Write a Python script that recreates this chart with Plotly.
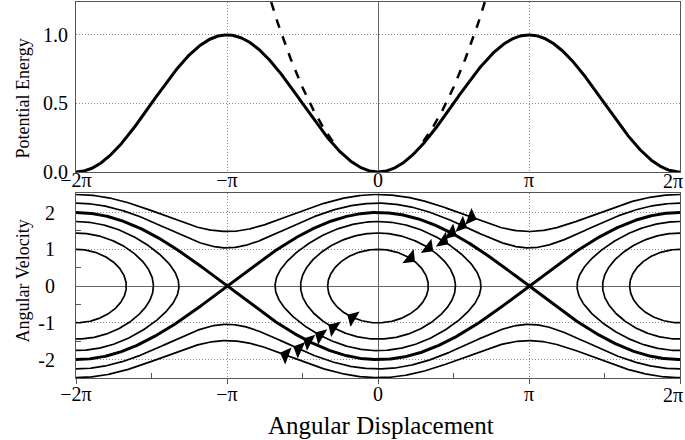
import numpy as np
import plotly.graph_objects as go

PI = np.pi

# tick positions / labels
x_tickvals = [-2 * PI, -PI, 0, PI, 2 * PI]
x_ticktext = ["\u22122\u03c0", "\u2212\u03c0", "0", "\u03c0", ""]
x_last_label = "2\u03c0"
x_minor = [-1.5 * PI, -0.5 * PI, 0.5 * PI, 1.5 * PI]
pe_tickvals = [0.0, 0.5, 1.0]
pe_ticktext = ["0.0", "0.5", "1.0"]
av_tickvals = [-2, -1, 0, 1, 2]
av_ticktext = ["-2", "-1", "0", "1", "2"]
av_minor = [-1.5, -0.5, 0.5, 1.5]
pe_range = [0, 1.24]
av_range = [-2.5, 2.52]

# orbit energies (E = v^2/2 + 1 - cos x)
closed_E = [0.5, 1.04, 1.54]
rotating_E = [2.54, 3.1]
# arrow positions (in units of pi) for each orbit, inner -> outer
arrow_E = [0.5, 1.04, 1.54, 2.0, 2.54, 3.1]
arrow_x_upper = [0.245, 0.366, 0.466, 0.521, 0.591, 0.654]
arrow_x_lower = [-0.203, -0.329, -0.417, -0.495, -0.561, -0.649]

FONT = "Liberation Serif, Times New Roman, serif"

fig = go.Figure()

# top panel: potential energy and small-angle parabola
x = np.linspace(-2 * PI, 2 * PI, 800)
fig.add_trace(go.Scatter(x=x, y=(1 - np.cos(x)) / 2, mode="lines",
                         line=dict(color="black", width=3), xaxis="x", yaxis="y"))
for side in (-1, 1):
    xd = side * np.linspace(0.3 * PI, 0.75 * PI, 200)
    fig.add_trace(go.Scatter(x=xd, y=xd ** 2 / 4, mode="lines",
                             line=dict(color="black", width=2.5, dash="dash"),
                             xaxis="x", yaxis="y"))

# bottom panel: phase portrait
phi = np.linspace(0, 2 * PI, 400)
for E in closed_E:
    k = np.sqrt(E / 2)
    xs = 2 * np.arcsin(k * np.sin(phi))
    vs = np.sqrt(2 * E) * np.cos(phi)
    for c in (-2 * PI, 0, 2 * PI):
        fig.add_trace(go.Scatter(x=xs + c, y=vs, mode="lines",
                                 line=dict(color="black", width=1.7),
                                 xaxis="x2", yaxis="y2"))

# separatrix
for s in (1, -1):
    fig.add_trace(go.Scatter(x=x, y=s * 2 * np.cos(x / 2), mode="lines",
                             line=dict(color="black", width=3),
                             xaxis="x2", yaxis="y2"))

for E in rotating_E:
    v = np.sqrt(2 * (E - 1 + np.cos(x)))
    for s in (1, -1):
        fig.add_trace(go.Scatter(x=x, y=s * v, mode="lines",
                                 line=dict(color="black", width=1.7),
                                 xaxis="x2", yaxis="y2"))

# arrows along the flow (dx/dt = v, dv/dt = -sin x)
sx = 604 / (4 * PI)
sy = 184.7 / (av_range[1] - av_range[0])
L = 11
for E, xu, xl in zip(arrow_E, arrow_x_upper, arrow_x_lower):
    for xp, sgn in ((xu * PI, 1), (xl * PI, -1)):
        vp = sgn * np.sqrt(max(2 * (E - 1 + np.cos(xp)), 0))
        dxp = vp * sx              # screen x velocity
        dyp = np.sin(xp) * sy      # screen y velocity (down positive)
        n = np.hypot(dxp, dyp)
        fig.add_annotation(x=xp, y=vp, xref="x2", yref="y2", text="",
                           showarrow=True, arrowhead=1, arrowsize=2,
                           arrowwidth=1.5, arrowcolor="black", standoff=0,
                           ax=-dxp / n * L, ay=-dyp / n * L)

axis_common = dict(showline=True, linecolor="#555", linewidth=1, mirror=True,
                   gridcolor="#888", griddash="1px,2px", gridwidth=1,
                   zeroline=True, zerolinecolor="#666", zerolinewidth=1,
                   automargin=False,
                   tickfont=dict(family=FONT, size=20, color="black"))

fig.update_layout(
    width=685, height=440,
    margin=dict(l=76, r=5, t=2, b=62),
    paper_bgcolor="white", plot_bgcolor="white",
    showlegend=False,
    xaxis=dict(domain=[0, 1], anchor="y", range=[-2 * PI, 2 * PI],
               tickmode="array", tickvals=x_tickvals, ticktext=x_ticktext,
               ticks="", ticklabelstandoff=-10, **axis_common),
    yaxis=dict(domain=[0.548, 1], anchor="x", range=pe_range,
               tickmode="array", tickvals=pe_tickvals, ticktext=pe_ticktext,
               ticks="", ticklabelstandoff=3, **axis_common),
    xaxis2=dict(domain=[0, 1], anchor="y2", range=[-2 * PI, 2 * PI],
                tickmode="array", tickvals=x_tickvals, ticktext=x_ticktext,
                ticks="outside", ticklen=5, tickcolor="#555",
                minor=dict(tickmode="array", tickvals=x_minor, ticks="inside",
                           ticklen=5, tickcolor="#555", showgrid=False),
                ticklabelstandoff=-7, **axis_common),
    yaxis2=dict(domain=[0, 0.491], anchor="x2", range=av_range,
                tickmode="array", tickvals=av_tickvals, ticktext=av_ticktext,
                ticks="", ticklabelstandoff=16,
                minor=dict(tickmode="array", tickvals=av_minor, ticks="inside",
                           ticklen=5, tickcolor="#555", showgrid=False),
                **axis_common),
)

# "2π" labels kept inside the page at the right edge
fig.add_annotation(text=x_last_label, x=x_tickvals[-1], y=pe_range[0], xref="x", yref="y",
                   xanchor="right", yanchor="middle", xshift=5, yshift=-9, showarrow=False,
                   font=dict(family=FONT, size=20, color="black"))
fig.add_annotation(text=x_last_label, x=x_tickvals[-1], y=av_range[0], xref="x2", yref="y2",
                   xanchor="right", yanchor="middle", xshift=5, yshift=-17, showarrow=False,
                   font=dict(family=FONT, size=20, color="black"))

fig.add_annotation(text="Potential Energy", textangle=-90, xref="paper", yref="paper",
                   x=-0.088, y=0.743, xanchor="center", yanchor="middle", showarrow=False,
                   font=dict(family=FONT, size=18, color="black"))
fig.add_annotation(text="Angular Velocity", textangle=-90, xref="paper", yref="paper",
                   x=-0.088, y=0.259, xanchor="center", yanchor="middle", showarrow=False,
                   font=dict(family=FONT, size=18, color="black"))
fig.add_annotation(text="Angular Displacement", xref="paper", yref="paper",
                   x=0.505, y=-0.125, xanchor="center", yanchor="middle", showarrow=False,
                   font=dict(family=FONT, size=25, color="black"))

fig.write_html("out.html", config={"displayModeBar": False},
               post_script="document.body.style.margin='0';")
